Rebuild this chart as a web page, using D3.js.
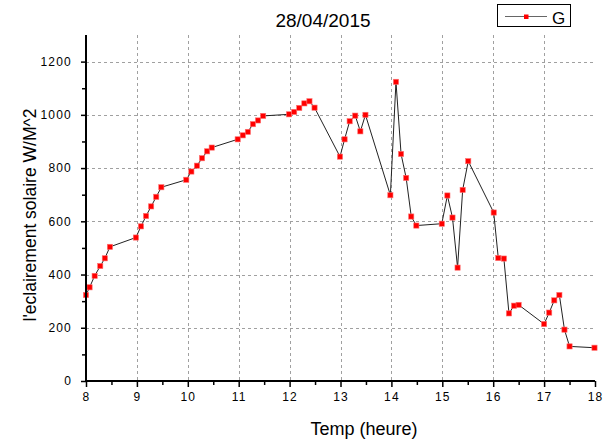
<!DOCTYPE html>
<html><head><meta charset="utf-8">
<script src="https://cdn.jsdelivr.net/npm/d3@7"></script>
<style>body{margin:0;background:#fff}svg{display:block}text{font-family:"Liberation Sans",Arial,sans-serif}</style>
</head><body><div id="c"></div>
<script>
const title = "28/04/2015";
const seriesName = "G";
const hours = [8.00,8.07,8.17,8.28,8.37,8.47,8.98,9.08,9.18,9.28,9.38,9.48,9.97,10.07,10.18,10.28,10.38,10.47,10.98,11.08,11.18,11.28,11.38,11.48,11.99,12.09,12.19,12.29,12.39,12.49,12.99,13.08,13.18,13.29,13.39,13.49,13.98,14.09,14.19,14.29,14.39,14.49,14.99,15.10,15.20,15.30,15.40,15.51,16.01,16.10,16.21,16.31,16.41,16.50,17.00,17.10,17.20,17.30,17.40,17.50,17.99];
const irradiance = [323,352,395,432,461,504,539,581,620,656,692,728,756,787,809,837,863,877,908,923,936,965,979,996,1002,1011,1026,1043,1051,1027,843,908,976,997,938,1000,698,1124,853,763,618,584,591,697,614,426,718,826,633,462,460,254,283,286,214,257,303,323,193,130,125];
const xTicks = [8,9,10,11,12,13,14,15,16,17,18];
const yTicks = [0,200,400,600,800,1000,1200];
const xLabel = "Temp (heure)";
const yLabel = "l'eclairement solaire W/M^2";

const W = 613, H = 442;
const svg = d3.select("#c").append("svg").attr("width", W).attr("height", H);
const x = d3.scaleLinear().domain([8, 18]).range([86, 595]);
const y = d3.scaleLinear().domain([0, 1300]).range([381, 35]);
const pts = hours.map((h, i) => [h, irradiance[i]]);

// grid
const grid = svg.append("g").attr("stroke", "#a0a0a0").attr("stroke-width", 1).attr("stroke-dasharray", "3,3");
xTicks.filter(t => t > 8 && t < 18).forEach(t => {
  grid.append("line").attr("x1", Math.round(x(t)) + 0.5).attr("x2", Math.round(x(t)) + 0.5).attr("y1", y(1300)).attr("y2", y(0));
});
yTicks.filter(t => t > 0).forEach(t => {
  grid.append("line").attr("x1", x(8)).attr("x2", x(18)).attr("y1", Math.round(y(t)) + 0.5).attr("y2", Math.round(y(t)) + 0.5);
});

// line + markers
svg.append("path").datum(pts)
  .attr("fill", "none").attr("stroke", "#222").attr("stroke-width", 1)
  .attr("d", d3.line().x(d => x(d[0])).y(d => y(d[1])));
svg.append("g").selectAll("rect").data(pts).join("rect")
  .attr("x", d => x(d[0]) - 2.6).attr("y", d => y(d[1]) - 2.6).attr("width", 5.2).attr("height", 5.2)
  .attr("fill", "#ff0000").attr("stroke", "#ff7070").attr("stroke-width", 0.6);

// axes
const xAxis = d3.axisBottom(x).tickValues(xTicks).tickSize(6).tickPadding(5).tickFormat(d3.format("d"));
const gx = svg.append("g").attr("transform", `translate(0,${y(0)})`).call(xAxis);
const xMinor = d3.axisBottom(x).tickValues(d3.range(8.5, 18, 1)).tickSize(4).tickFormat("");
const gxm = svg.append("g").attr("transform", `translate(0,${y(0)})`).call(xMinor);
const yAxis = d3.axisLeft(y).tickValues(yTicks).tickSize(5).tickPadding(9).tickFormat(d3.format("d"));
const gy = svg.append("g").attr("transform", `translate(${x(8)},0)`).call(yAxis);
const yMinor = d3.axisLeft(y).tickValues(d3.range(100, 1300, 200)).tickSize(4).tickFormat("");
const gym = svg.append("g").attr("transform", `translate(${x(8)},0)`).call(yMinor);
[gx, gxm, gy, gym].forEach(g => {
  g.selectAll(".domain").attr("stroke", "#000").attr("stroke-width", 2);
  g.selectAll(".tick line").attr("stroke", "#000").attr("stroke-width", 1.5);
  g.selectAll("text").attr("font-size", 12).attr("letter-spacing", 1.2).attr("fill", "#000")
    .attr("font-family", '"Liberation Sans",Arial,sans-serif');
});
gy.select(".domain").attr("d", `M0,${y(1300)}V${y(0)}`);
gx.select(".domain").attr("d", `M${x(8) - 1},0H${x(18)}`);
gym.select(".domain").remove();
gxm.select(".domain").remove();

// title & labels
svg.append("text").attr("x", 323).attr("y", 27).attr("text-anchor", "middle").attr("font-size", 19).text(title);
svg.append("text").attr("x", 364).attr("y", 435).attr("text-anchor", "middle").attr("font-size", 18).text(xLabel);
svg.append("text").attr("transform", `translate(36,215) rotate(-90)`).attr("text-anchor", "middle").attr("font-size", 17.5).text(yLabel);

// legend
const lg = svg.append("g");
lg.append("rect").attr("x", 497.5).attr("y", 4.5).attr("width", 73).attr("height", 22).attr("fill", "#fff").attr("stroke", "#000").attr("stroke-width", 1);
lg.append("line").attr("x1", 505).attr("x2", 547).attr("y1", 16.5).attr("y2", 16.5).attr("stroke", "#666").attr("stroke-width", 1);
lg.append("rect").attr("x", 524).attr("y", 14.5).attr("width", 4.5).attr("height", 4.5).attr("fill", "#ff0000");
lg.append("text").attr("x", 552).attr("y", 23.5).attr("font-size", 17).text(seriesName);
</script></body></html>
